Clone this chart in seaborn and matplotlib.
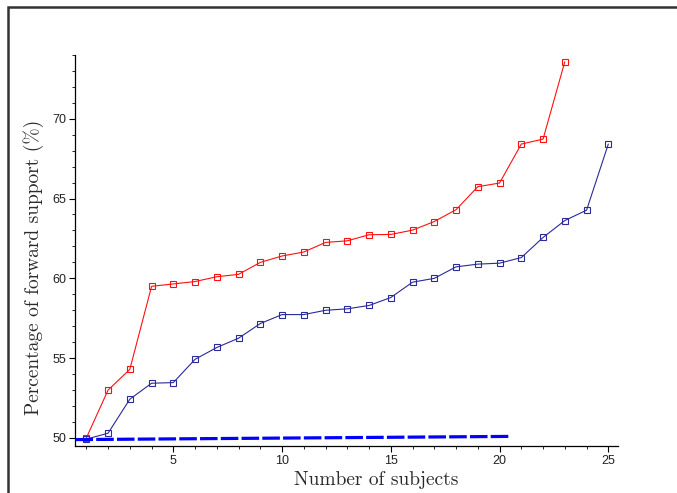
import numpy as np
import pandas as pd
import matplotlib
matplotlib.use('Agg')
import matplotlib.pyplot as plt
from matplotlib.patches import Rectangle
from matplotlib.ticker import MultipleLocator
import seaborn as sns

# values
red_subjects = list(range(1, 24))
red_support = [50.0, 53.0, 54.3, 59.5, 59.65, 59.8, 60.1, 60.25, 61.0, 61.4, 61.65,
               62.25, 62.35, 62.73, 62.75, 63.02, 63.56, 64.3, 65.74, 65.97, 68.41,
               68.72, 73.57]
blue_subjects = list(range(1, 26))
blue_support = [49.93, 50.3, 52.43, 53.43, 53.47, 54.93, 55.67, 56.25, 57.17, 57.73,
                57.73, 58.0, 58.09, 58.3, 58.8, 59.76, 60.0, 60.72, 60.89, 60.95,
                61.3, 62.56, 63.62, 64.27, 68.41]
base_x = [0.5, 20.5]
base_y = [49.9, 50.1]

red = pd.DataFrame({'n': red_subjects, 'pct': red_support})
blue = pd.DataFrame({'n': blue_subjects, 'pct': blue_support})
base = pd.DataFrame({'n': base_x, 'pct': base_y})

sns.set_style('ticks')
plt.rcParams['font.family'] = ['Liberation Sans', 'DejaVu Sans']

fig = plt.figure(figsize=(6.77, 4.93), dpi=100)
ax = fig.add_axes([0.1108, 0.0944, 0.8022, 0.7944])

sns.lineplot(x='n', y='pct', data=base, ax=ax, color='#0000ff', lw=2.3,
             dashes=False, zorder=3).lines[-1].set_dashes((5.5, 1))
sns.lineplot(x='n', y='pct', data=red, ax=ax, color='#ff1010', lw=0.8,
             marker='s', ms=4, mfc='none', mec='#ff1010', mew=0.8, zorder=2)
sns.lineplot(x='n', y='pct', data=blue, ax=ax, color='#2a2a9a', lw=0.8,
             marker='s', ms=4, mfc='none', mec='#2a2a9a', mew=0.8, zorder=2)

ax.set_xlim(0.48, 25.45)
ax.set_ylim(49.47, 74.0)
ax.xaxis.set_major_locator(MultipleLocator(5))
ax.xaxis.set_minor_locator(MultipleLocator(1))
ax.yaxis.set_major_locator(MultipleLocator(5))
ax.yaxis.set_minor_locator(MultipleLocator(1))
ax.tick_params(which='major', length=4, width=0.8, labelsize=9, pad=2,
               color='black', labelcolor='#222222')
ax.tick_params(which='minor', length=2.5, width=0.6, color='black')
sns.despine(ax=ax)
for s in ['left', 'bottom']:
    ax.spines[s].set_linewidth(0.9)
    ax.spines[s].set_color('black')

ax.set_xlabel('Number of subjects', fontfamily='cmr10', fontsize=14, color='#2a2a2a')
ax.set_ylabel('Percentage of forward support (%)', fontfamily='cmr10', fontsize=14,
              color='#2a2a2a')
ax.xaxis.set_label_coords(0.554, -0.062)
ax.yaxis.set_label_coords(-0.058, 0.458)

# frame around the figure (cropped at right and bottom)
fig.add_artist(Rectangle((8 / 677, -0.1), 1.2, 1.1 - 7 / 493, transform=fig.transFigure,
                         fill=False, lw=1.8, edgecolor='#333333', clip_on=False))

fig.savefig('out.png', dpi=100)
